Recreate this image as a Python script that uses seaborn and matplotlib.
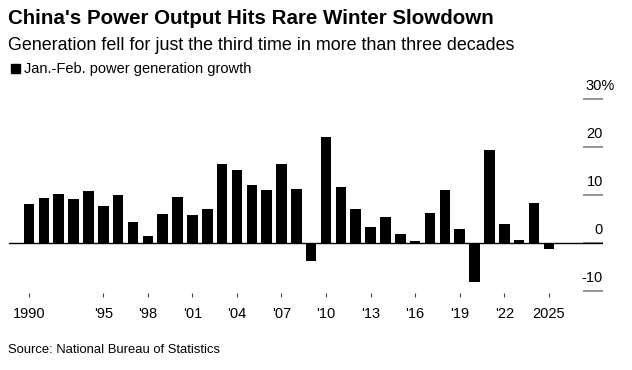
import numpy as np
import pandas as pd
import seaborn as sns
import matplotlib.pyplot as plt
from matplotlib.patches import Rectangle
from matplotlib.transforms import offset_copy

# Jan.-Feb. power generation growth, % y/y
years = list(range(1990, 2026))
growth = [8.2, 9.5, 10.3, 9.3, 10.9, 7.8, 10.1, 4.5, 1.5, 6.1,
          9.7, 5.9, 7.2, 16.6, 15.3, 12.2, 11.1, 16.6, 11.3, -3.7,
          22.2, 11.8, 7.2, 3.4, 5.5, 1.9, 0.4, 6.3, 11.1, 3.0,
          -8.1, 19.5, 4.0, 0.7, 8.4, -1.2]
tick_years = [1990, 1995, 1998, 2001, 2004, 2007, 2010, 2013, 2016, 2019, 2022, 2025]
tick_labels = ["1990", "'95", "'98", "'01", "'04", "'07", "'10", "'13", "'16", "'19", "'22", "2025"]
y_ticks = [-10, 0, 10, 20, 30]
y_labels = ["-10", "0", "10", "20", "30%"]

df = pd.DataFrame({"year": years, "growth": growth})

sns.set_style("white")
plt.rcParams["font.family"] = ["Liberation Sans", "DejaVu Sans"]
plt.rcParams["text.color"] = "black"
plt.rcParams["xtick.color"] = "black"
plt.rcParams["xtick.labelcolor"] = "black"

W, H = 632, 370
fig = plt.figure(figsize=(W / 100, H / 100), dpi=100)
ax = fig.add_axes([9 / W, (H - 293) / H, (603 - 9) / W, (293 - 99.3) / H])

sns.barplot(data=df, x="year", y="growth", order=years, color="black",
            width=0.71, saturation=1, linewidth=0, ax=ax, zorder=2)

ax.set_xlim(-1.35, 38.65)
ax.set_ylim(-10.4, 30)
ax.axhline(0, color="black", lw=1.0, zorder=1)

for s in ax.spines.values():
    s.set_visible(False)

# x ticks
ax.set_xticks([years.index(y) for y in tick_years])
ax.set_xticklabels(tick_labels, fontsize=10.5)
ax.tick_params(axis="x", direction="out", length=3, width=0.8,
               color="#444444", pad=7, bottom=True)
ax.set_xlabel("")
ax.set_ylabel("")

# right-side y ticks: short gray segments with labels above
ax.yaxis.tick_right()
ax.set_yticks(y_ticks)
ax.tick_params(axis="y", direction="in", length=14.4, width=1.3,
               color="#8c8c8c", labelright=False, labelleft=False)
ytrans = ax.get_yaxis_transform()
for v, lab in zip(y_ticks, y_labels):
    shift = 8.6 if lab.endswith("%") else 0
    tr = offset_copy(ytrans, fig=fig, x=shift, y=0, units="points")
    ax.text(1.0, v + 2.7, lab, transform=tr,
            ha="right", va="center", fontsize=10.5)

# titles
fig.text(8 / W, 1 - 18 / H, "China's Power Output Hits Rare Winter Slowdown",
         fontsize=14.8, fontweight="bold", ha="left", va="center")
fig.text(8 / W, 1 - 46 / H, "Generation fell for just the third time in more than three decades",
         fontsize=12.9, ha="left", va="center")

# legend
fig.patches.append(Rectangle((11 / W, 1 - 73 / H), 9 / W, 9 / H,
                             transform=fig.transFigure, color="black"))
fig.text(24 / W, 1 - 69 / H, "Jan.-Feb. power generation growth",
         fontsize=10.5, ha="left", va="center")

fig.text(8 / W, 1 - 350 / H, "Source: National Bureau of Statistics",
         fontsize=9.4, ha="left", va="center")

fig.savefig("out.png", dpi=100)
